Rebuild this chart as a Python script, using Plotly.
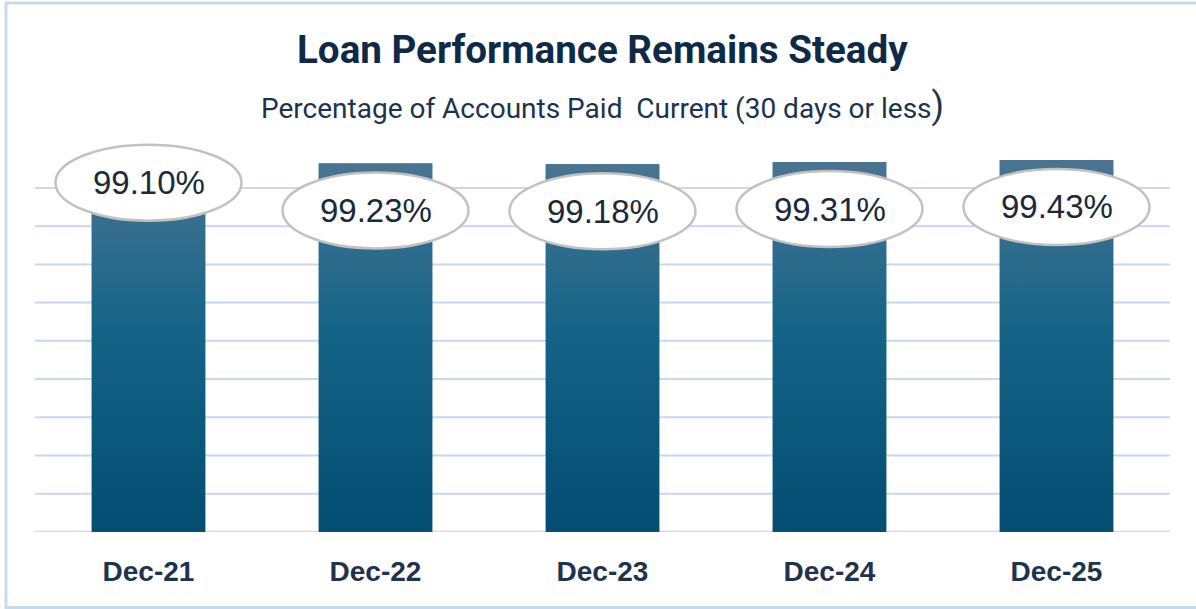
import plotly.graph_objects as go

# ---- data ----
categories = ["Dec-21", "Dec-22", "Dec-23", "Dec-24", "Dec-25"]
values = [99.10, 99.23, 99.18, 99.31, 99.43]
value_labels = ["99.10%", "99.23%", "99.18%", "99.31%", "99.43%"]

# ---- label placement (pixel offsets of ellipse centre from bar top) ----
label_offsets_px = [-17, -47, -47, -47, -47]

# ---- axis scaling ----
W, H = 1196, 609
ML, MR, MT, MB = 35, 26, 135, 77
PW = W - ML - MR
PH = H - MT - MB

Y_MIN = 77.8
PX_PER_UNIT = 17.2
Y_MAX = Y_MIN + PH / PX_PER_UNIT
GRID_STEP = 2.222
N_GRID = 10

NAVY = "#0f2a47"
GRID = "#c6d9ef"
GRAD = [[0.0, "#044c72"], [0.55, "#156487"], [1.0, "#4b7492"]]

xs = list(range(len(categories)))
BAR_W = 0.5

fig = go.Figure()

# base bar trace (data)
fig.add_trace(go.Bar(
    x=xs, y=values, width=BAR_W,
    marker=dict(color="#156487", line=dict(width=0)),
    hoverinfo="skip", showlegend=False,
))

# vertical gradient overlay for each bar, derived from the same values
for i, v in zip(xs, values):
    fig.add_trace(go.Scatter(
        x=[i - BAR_W / 2, i + BAR_W / 2, i + BAR_W / 2, i - BAR_W / 2, i - BAR_W / 2],
        y=[Y_MIN, Y_MIN, v, v, Y_MIN],
        mode="lines", line=dict(width=0),
        fill="toself",
        fillgradient=dict(type="vertical", colorscale=GRAD, start=Y_MIN, stop=max(values)),
        hoverinfo="skip", showlegend=False,
    ))

shapes = []
annotations = []

# horizontal gridlines (drawn below the bars)
for k in range(N_GRID):
    yv = Y_MIN + k * GRID_STEP
    shapes.append(dict(
        type="line", xref="paper", yref="y", x0=0, x1=1, y0=yv, y1=yv,
        line=dict(color=GRID, width=2), layer="below",
    ))

for i, v, lab, off in zip(xs, values, value_labels, label_offsets_px):
    shapes.append(dict(
        type="circle", xref="x", yref="y",
        xsizemode="pixel", ysizemode="pixel",
        xanchor=i, yanchor=v,
        x0=-93, x1=93, y0=off - 38, y1=off + 38,
        fillcolor="white", line=dict(color="#c2c2c2", width=2.5),
        layer="above",
    ))
    annotations.append(dict(
        x=i, y=v, xref="x", yref="y", yshift=off,
        text=lab, showarrow=False,
        font=dict(family="Liberation Sans, Arial", size=33, color="#1b2a3b"),
        xanchor="center", yanchor="middle",
    ))

# frame
shapes.append(dict(
    type="rect", xref="paper", yref="paper",
    x0=(6 - ML) / PW, x1=(1202 - ML) / PW,
    y0=(MT + PH - 607.5) / PH, y1=(MT + PH - 3) / PH,
    line=dict(color="#c8dbee", width=3), fillcolor="rgba(0,0,0,0)", layer="below",
))

# title + subtitle
annotations.append(dict(
    x=0.5, xref="paper", y=(MT + PH - 50) / PH, yref="paper",
    text="<b>Loan Performance Remains Steady</b>", showarrow=False,
    font=dict(family="Roboto", size=38.6, color=NAVY),
    xanchor="center", yanchor="middle",
))
annotations.append(dict(
    x=0.5, xref="paper", y=(MT + PH - 106) / PH, yref="paper",
    text="Percentage of Accounts Paid  Current (30 days or less<span style='font-size:36px'>)</span>",
    showarrow=False,
    font=dict(family="Roboto", size=28, color="#1c3350"),
    xanchor="center", yanchor="middle",
))

fig.update_layout(
    width=W, height=H,
    margin=dict(l=ML, r=MR, t=MT, b=MB, pad=0),
    paper_bgcolor="white", plot_bgcolor="white",
    showlegend=False,
    shapes=shapes, annotations=annotations,
    xaxis=dict(
        range=[-0.5, len(categories) - 0.5],
        tickmode="array", tickvals=xs, ticktext=categories,
        showgrid=False, zeroline=False, showline=False,
        ticks="", ticklabelstandoff=20,
        tickfont=dict(family="Liberation Sans, Arial", size=28, color="#1f3350", weight="bold"),
        fixedrange=True,
    ),
    yaxis=dict(
        range=[Y_MIN - 0.01, Y_MAX],
        showgrid=False, zeroline=False, showline=False, showticklabels=False, ticks="",
        fixedrange=True,
    ),
)

fig.write_html(
    "out.html",
    config={"displayModeBar": False},
    post_script="document.body.style.margin='0';",
)
